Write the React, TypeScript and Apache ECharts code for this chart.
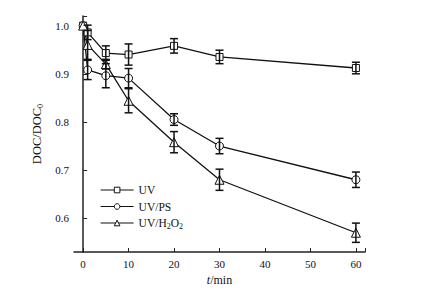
import React, { useEffect, useRef } from "react";
import * as echarts from "echarts";

const T = [0, 1, 5, 10, 20, 30, 60];
const uv = [1.0, 0.986, 0.943, 0.94, 0.958, 0.935, 0.912];
const uvErr = [0, 0.015, 0.015, 0.022, 0.015, 0.014, 0.012];
const ps = [1.0, 0.908, 0.896, 0.891, 0.805, 0.75, 0.68];
const psErr = [0, 0.02, 0.025, 0.02, 0.012, 0.016, 0.016];
const h2o2 = [1.0, 0.96, 0.92, 0.844, 0.758, 0.68, 0.57];
const h2o2Err = [0, 0.03, 0.01, 0.025, 0.022, 0.022, 0.02];

const xTicks = [0, 10, 20, 30, 40, 50, 60];
const yTicks = [0.6, 0.7, 0.8, 0.9, 1.0];

const FONT = "Liberation Serif";

const seriesDefs = [
  { name: "UV", values: uv, errs: uvErr, symbol: "rect", size: 7 },
  { name: "UV/PS", values: ps, errs: psErr, symbol: "circle", size: 8 },
  { name: "UV/H2O2", values: h2o2, errs: h2o2Err, symbol: "triangle", size: 9 },
];

export default function App() {
  const ref = useRef<HTMLDivElement>(null);
  useEffect(() => {
    document.body.style.margin = "0";
    if (!ref.current) return;
    const chart = echarts.init(ref.current, null, { renderer: "svg" });
    const lineSeries = seriesDefs.map((s) => ({
      name: s.name,
      type: "line",
      data: T.map((t, i) => [t, s.values[i]]),
      symbol: s.symbol,
      symbolSize: s.size,
      showSymbol: true,
      lineStyle: { color: "#111", width: 1.3 },
      itemStyle: { color: "#fff", borderColor: "#111", borderWidth: 1 },
      z: 3,
    }));
    const errSeries = seriesDefs.map((s) => ({
      name: s.name + "-err",
      type: "custom",
      data: T.map((t, i) => [t, s.values[i] - s.errs[i], s.values[i] + s.errs[i]]).filter(
        (_, i) => s.errs[i] > 0
      ),
      encode: { x: 0, y: [1, 2] },
      z: 4,
      renderItem: (params: any, api: any) => {
        const x = api.value(0);
        const lo = api.value(1);
        const hi = api.value(2);
        const p1 = api.coord([x, hi]);
        const p2 = api.coord([x, lo]);
        const w = 4;
        const st = { stroke: "#111", lineWidth: 1.5 };
        return {
          type: "group",
          children: [
            { type: "line", shape: { x1: p1[0], y1: p1[1], x2: p2[0], y2: p2[1] }, style: st },
            { type: "line", shape: { x1: p1[0] - w, y1: p1[1], x2: p1[0] + w, y2: p1[1] }, style: st },
            { type: "line", shape: { x1: p2[0] - w, y1: p2[1], x2: p2[0] + w, y2: p2[1] }, style: st },
          ],
        };
      },
    }));
    chart.setOption({
      animation: false,
      backgroundColor: "#fff",
      textStyle: { fontFamily: FONT },
      grid: { left: 74, right: 56, top: 16, bottom: 46 },
      legend: {
        data: seriesDefs.map((s) => s.name),
        orient: "vertical",
        left: 95,
        top: 179,
        itemWidth: 33,
        itemHeight: 7,
        itemGap: 4.5,
        lineStyle: { width: 1.2 },
        itemStyle: { borderWidth: 1 },
        formatter: (name: string) =>
          name === "UV/H2O2" ? "{n|UV/H}{sub|2}{n|O}{sub|2}" : "{n|" + name + "}",
        textStyle: {
          fontFamily: FONT,
          color: "#111",
          rich: {
            n: { fontFamily: FONT, fontSize: 11.5, lineHeight: 14, color: "#111" },
            sub: { fontFamily: FONT, fontSize: 8, lineHeight: 8, verticalAlign: "bottom", color: "#111" },
          },
        },
      },
      xAxis: {
        type: "value",
        min: -2,
        max: 62,
        name: "{it|t}{n|/min}",
        nameLocation: "middle",
        nameGap: 22,
        nameTextStyle: {
          rich: {
            it: { fontFamily: FONT, fontSize: 12, fontStyle: "italic", color: "#111" },
            n: { fontFamily: FONT, fontSize: 12, color: "#111" },
          },
        },
        axisLine: { lineStyle: { color: "#222", width: 1.5 } },
        axisTick: { inside: true, length: 4, customValues: [...xTicks, 62], lineStyle: { color: "#222", width: 1 } },
        axisLabel: { customValues: xTicks, fontFamily: FONT, fontSize: 11, color: "#111", margin: 6 },
        splitLine: { show: false },
      },
      yAxis: {
        type: "value",
        min: 0.53,
        max: 1.02,
        name: "{n|DOC/DOC}{sub|0}",
        nameLocation: "middle",
        nameRotate: 90,
        nameGap: 29,
        nameTextStyle: {
          rich: {
            n: { fontFamily: FONT, fontSize: 12.5, lineHeight: 15, color: "#111" },
            sub: { fontFamily: FONT, fontSize: 8, lineHeight: 8, verticalAlign: "bottom", color: "#111" },
          },
        },
        axisLine: { show: true, lineStyle: { color: "#222", width: 1.5 } },
        axisTick: { show: true, inside: true, length: 4, customValues: [...yTicks, 1.02], lineStyle: { color: "#222", width: 1 } },
        axisLabel: {
          customValues: yTicks,
          fontFamily: FONT,
          fontSize: 11,
          color: "#111",
          margin: 5,
          formatter: (v: number) => v.toFixed(1),
        },
        splitLine: { show: false },
      },
      series: [...lineSeries, ...errSeries],
    });
    return () => chart.dispose();
  }, []);
  return <div ref={ref} style={{ width: 421, height: 298 }} />;
}
